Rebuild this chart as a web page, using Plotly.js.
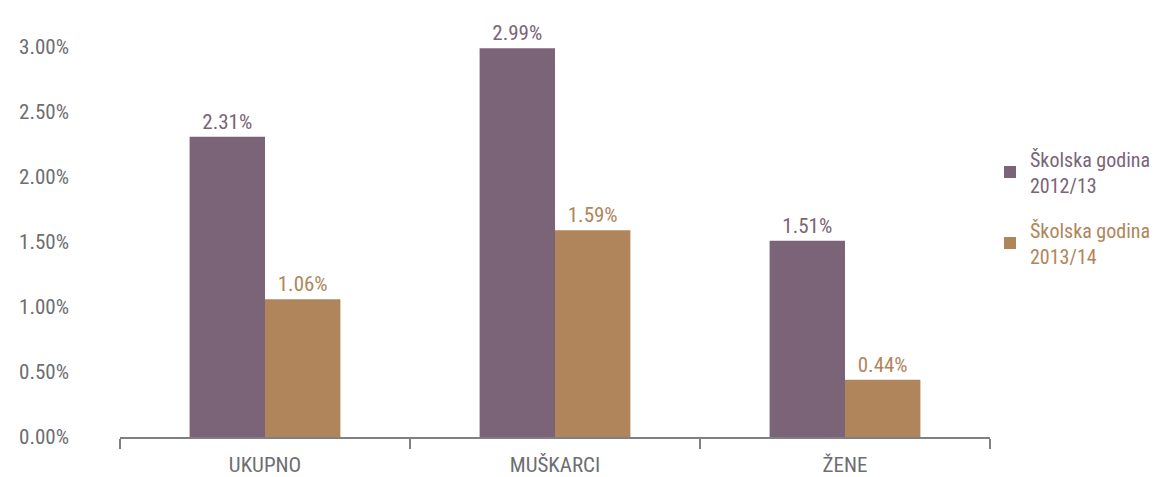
<!DOCTYPE html>
<html><head><meta charset="utf-8">
<script src="https://cdn.plot.ly/plotly-3.0.1.min.js"></script>
<style>body{margin:0;background:#fff}#chart{width:1176px;height:477px}</style>
</head><body><div id="chart"></div>
<script>
const categories = ['UKUPNO', 'MUŠKARCI', 'ŽENE'];
const series1Name = 'Školska godina 2012/13';
const series1 = [2.31, 2.99, 1.51];
const series2Name = 'Školska godina 2013/14';
const series2 = [1.06, 1.59, 0.44];
const yTicks = [0, 0.5, 1, 1.5, 2, 2.5, 3];
const yTickText = ['0.00%', '0.50%', '1.00%', '1.50%', '2.00%', '2.50%', '3.00%'];

const FONT = '"Roboto Condensed", "Liberation Sans Narrow", Roboto, sans-serif';
const C1 = '#7b6478', C2 = '#b0855b', GRAY = '#6d6e71';

const traces = [
  {type:'bar', x:categories, y:series1, legendgroup:'a',
   name:'<span style="color:'+C1+'">Školska godina<br>2012/13</span>',
   marker:{color:C1}, texttemplate:'%{y:.2f}%', textposition:'outside',
   textfont:{color:C1, size:21, family:FONT}, cliponaxis:false, hoverinfo:'none'},
  {type:'bar', x:categories, y:series2, legendgroup:'b',
   name:'<span style="color:'+C2+'">Školska godina<br>2013/14</span>',
   marker:{color:C2}, texttemplate:'%{y:.2f}%', textposition:'outside',
   textfont:{color:C2, size:21, family:FONT}, cliponaxis:false, hoverinfo:'none'}
];

const layout = {
  width:1176, height:477,
  margin:{l:120, r:186, t:8, b:40},
  paper_bgcolor:'#fff', plot_bgcolor:'#fff',
  font:{family:FONT, color:GRAY, size:20},
  barmode:'group', bargap:0.48, bargroupgap:0,
  showlegend:true,
  legend:{x:1.0, xanchor:'left', y:0.535, yanchor:'middle', font:{size:20, family:FONT},
          itemwidth:30, tracegroupgap:16, traceorder:'grouped'},
  xaxis:{type:'category', showline:true, linecolor:'#808080', linewidth:2,
         ticks:'outside', tickson:'boundaries', ticklen:10, tickcolor:'#808080', tickwidth:2,
         ticklabelstandoff:8,
         tickfont:{size:21, color:GRAY, family:FONT}, showgrid:false, zeroline:false},
  yaxis:{range:[0,3.3], tickvals:yTicks, ticktext:yTickText, showgrid:false, zeroline:false,
         showline:false, ticks:'', ticklabelstandoff:50,
         tickfont:{size:21, color:GRAY, family:FONT}}
};
Plotly.newPlot('chart', traces, layout, {displayModeBar:false, staticPlot:true});
</script></body></html>
